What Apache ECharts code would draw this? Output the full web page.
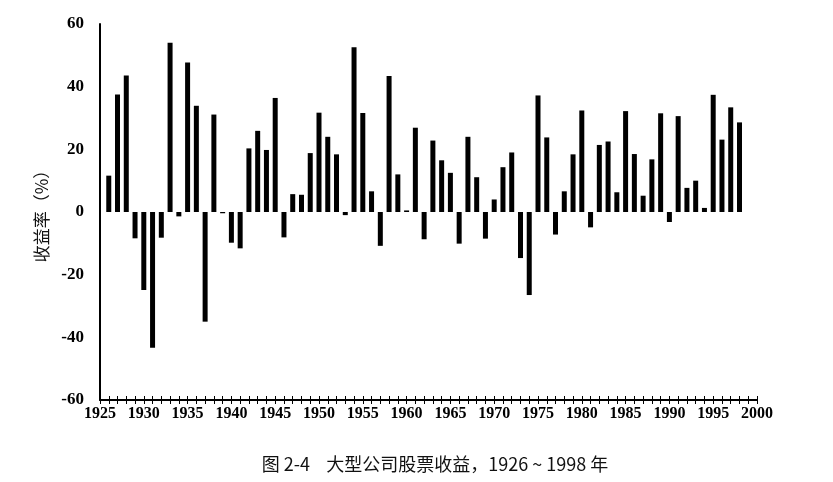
<!DOCTYPE html>
<html>
<head>
<meta charset="utf-8">
<script src="https://cdn.jsdelivr.net/npm/echarts@6/dist/echarts.min.js"></script>
<style>
  html, body { margin: 0; padding: 0; background: #fff; }
  #chart { width: 833px; height: 482px; }
</style>
</head>
<body>
<div id="chart"></div>
<script>
// Large company stock annual returns (%), 1926-1998
const years = [];
for (let y = 1926; y <= 1998; y++) years.push(y);
const returns = [
    11.6, 37.5, 43.6, -8.4, -24.9, -43.3, -8.2, 54.0, -1.4, 47.7,
    33.9, -35.0, 31.1, -0.4, -9.8, -11.6, 20.3, 25.9, 19.8, 36.4,
    -8.1, 5.7, 5.5, 18.8, 31.7, 24.0, 18.4, -1.0, 52.6, 31.6,
    6.6, -10.8, 43.4, 12.0, 0.5, 26.9, -8.7, 22.8, 16.5, 12.5,
    -10.1, 24.0, 11.1, -8.5, 4.0, 14.3, 19.0, -14.7, -26.5, 37.2,
    23.8, -7.2, 6.6, 18.4, 32.4, -4.9, 21.4, 22.5, 6.3, 32.2,
    18.5, 5.2, 16.8, 31.5, -3.2, 30.6, 7.7, 10.0, 1.3, 37.4,
    23.1, 33.4, 28.6
];
const yTicks = [-60, 60, 20];   // min, max, interval
const xRange = [1925, 2000, 5];
const yName = '收益率（%）';
const caption = '图 2-4    大型公司股票收益，1926 ~ 1998 年';

const chart = echarts.init(document.getElementById('chart'));

const axisFont = {
    color: '#000',
    fontFamily: 'Liberation Serif',
    fontWeight: 'bold'
};

const option = {
    backgroundColor: '#fff',
    animation: false,
    title: {
        text: caption,
        left: 430,
        textAlign: 'center',
        top: 450,
        textStyle: {
            fontFamily: 'Noto Sans CJK SC',
            fontWeight: 'normal',
            fontSize: 18,
            color: '#111'
        }
    },
    grid: { left: 100, top: 24, right: 76, bottom: 82 },
    xAxis: [
        {
            type: 'value',
            min: xRange[0],
            max: xRange[1],
            interval: xRange[2],
            axisLine: { onZero: false, lineStyle: { color: '#000', width: 2 } },
            axisTick: { show: true, length: 4, lineStyle: { color: '#000', width: 1 } },
            minorTick: { show: true, splitNumber: 5, length: 4, lineStyle: { color: '#000', width: 1 } },
            axisLabel: Object.assign({ fontSize: 16, margin: 6, formatter: v => String(v) }, axisFont),
            splitLine: { show: false }
        },
        {
            type: 'value',
            min: xRange[0],
            max: xRange[1],
            interval: xRange[2],
            position: 'bottom',
            axisLine: { show: false, onZero: false },
            axisTick: { show: true, inside: true, length: 4, lineStyle: { color: '#000', width: 1 } },
            minorTick: { show: true, splitNumber: 5, length: 4, lineStyle: { color: '#000', width: 1 } },
            axisLabel: { show: false },
            splitLine: { show: false }
        }
    ],
    yAxis: {
        type: 'value',
        min: yTicks[0],
        max: yTicks[1],
        interval: yTicks[2],
        name: yName,
        nameLocation: 'middle',
        nameGap: 46,
        nameRotate: 90,
        nameTextStyle: {
            fontFamily: 'Noto Sans CJK SC',
            fontSize: 17,
            color: '#111'
        },
        axisLine: { show: true, lineStyle: { color: '#000', width: 2 } },
        axisTick: { show: false },
        axisLabel: Object.assign({ fontSize: 17, margin: 16 }, axisFont),
        splitLine: { show: false }
    },
    series: [
        {
            type: 'bar',
            xAxisIndex: 0,
            data: years.map((y, i) => [y, returns[i]]),
            barWidth: 5,
            itemStyle: { color: '#000' }
        }
    ]
};

chart.setOption(option);
</script>
</body>
</html>
